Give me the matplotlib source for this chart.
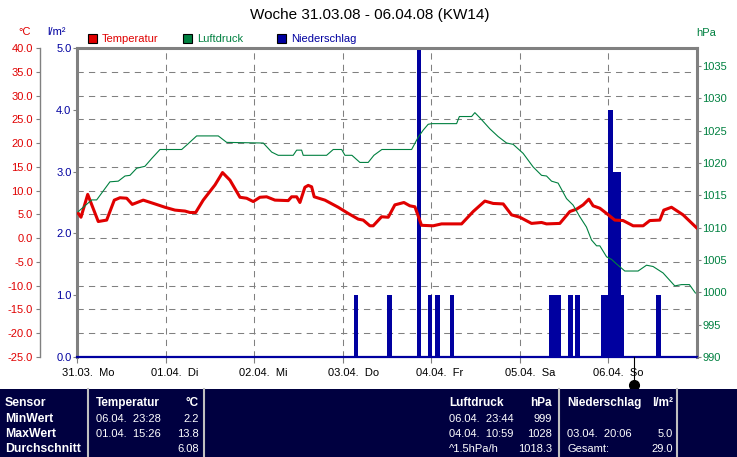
import numpy as np
import matplotlib
matplotlib.use('Agg')
import matplotlib.pyplot as plt
from matplotlib.patches import Rectangle
from matplotlib.lines import Line2D
from matplotlib.ticker import FixedLocator
from matplotlib.transforms import offset_copy

plt.rcParams['font.family'] = ['Liberation Sans', 'DejaVu Sans']

# --- data (x in days since 31.03. 00:00) ---
temp_day = [0.015, 0.045, 0.121, 0.240, 0.335, 0.421, 0.485, 0.561, 0.624, 0.748,
            0.880, 0.993, 1.106, 1.219, 1.275, 1.340, 1.425, 1.558, 1.643, 1.727,
            1.840, 1.915, 1.990, 2.065, 2.141, 2.235, 2.385, 2.423, 2.480, 2.517,
            2.573, 2.611, 2.649, 2.678, 2.799, 2.949, 3.062, 3.175, 3.231, 3.307,
            3.344, 3.439, 3.514, 3.589, 3.691, 3.758, 3.815, 3.890, 4.021, 4.116,
            4.342, 4.473, 4.605, 4.699, 4.812, 4.906, 5.000, 5.132, 5.245, 5.301,
            5.451, 5.564, 5.640, 5.714, 5.779, 5.827, 5.903, 5.979, 6.072, 6.166,
            6.279, 6.392, 6.467, 6.580, 6.625, 6.712, 6.843, 6.994]
temp_c = [5.2, 4.4, 9.2, 3.5, 3.8, 8.0, 8.5, 8.4, 7.1, 8.0,
          7.2, 6.5, 5.9, 5.7, 5.4, 5.4, 8.0, 11.2, 13.8, 12.2,
          8.6, 8.4, 7.7, 8.6, 8.7, 8.0, 7.9, 8.7, 8.7, 7.5,
          10.7, 11.1, 10.8, 8.7, 8.0, 6.5, 5.2, 4.0, 3.8, 2.6,
          2.6, 4.5, 4.4, 7.0, 7.5, 6.8, 6.6, 2.7, 2.6, 3.0,
          3.0, 5.6, 7.8, 7.3, 7.2, 4.9, 4.4, 3.1, 3.3, 3.0,
          3.1, 5.6, 6.1, 7.0, 8.2, 6.8, 6.3, 5.2, 3.8, 3.7,
          2.6, 2.6, 3.7, 3.8, 5.9, 6.5, 4.9, 2.2]

press_day = [0.015, 0.166, 0.222, 0.372, 0.466, 0.542, 0.598, 0.674, 0.767, 0.843,
             0.937, 1.182, 1.256, 1.351, 1.595, 1.690, 2.103, 2.198, 2.272, 2.441,
             2.480, 2.536, 2.554, 2.818, 2.893, 2.988, 3.025, 3.104, 3.194, 3.288,
             3.352, 3.442, 3.778, 3.852, 3.909, 3.965, 4.007, 4.286, 4.317, 4.455,
             4.492, 4.549, 4.661, 4.755, 4.850, 4.924, 5.037, 5.150, 5.245, 5.301,
             5.358, 5.432, 5.527, 5.601, 5.677, 5.752, 5.809, 5.866, 5.903, 5.979,
             6.035, 6.091, 6.185, 6.335, 6.430, 6.504, 6.617, 6.749, 6.825, 6.914,
             6.982]
press_hpa = [1012.5, 1014.3, 1014.3, 1017.1, 1017.2, 1018.0, 1018.1, 1019.2, 1019.5, 1020.7,
             1022.1, 1022.1, 1023.0, 1024.2, 1024.2, 1023.2, 1023.1, 1021.7, 1021.2, 1021.2,
             1022.0, 1022.0, 1021.2, 1021.2, 1022.1, 1022.1, 1021.2, 1021.2, 1020.1, 1020.1,
             1021.2, 1022.1, 1022.1, 1024.0, 1025.1, 1026.0, 1026.1, 1026.1, 1027.2, 1027.2,
             1027.8, 1027.0, 1025.3, 1024.1, 1023.1, 1022.9, 1021.5, 1019.4, 1018.1, 1018.0,
             1017.2, 1016.9, 1014.5, 1013.5, 1011.7, 1010.1, 1008.1, 1007.2, 1007.2, 1005.5,
             1005.1, 1004.4, 1003.3, 1003.3, 1004.2, 1004.0, 1003.0, 1001.0, 1001.2, 1001.2,
             999.9]

# hourly precipitation (hour since 31.03. 00:00)
rain_hour = [75, 84, 92, 95, 97, 101, 128, 129, 130, 133, 135,
             142, 143, 144, 145, 146, 147, 157]
rain_mm = [1, 1, 5, 1, 1, 1, 1, 1, 1, 1, 1,
           1, 1, 4, 3, 3, 1, 1]

day_labels = ['31.03.  Mo', '01.04.  Di', '02.04.  Mi', '03.04.  Do',
              '04.04.  Fr', '05.04.  Sa', '06.04.  So']
now_day = 6.287

T_MIN, T_MAX = -25, 40
P_MIN, P_MAX = 990, 1037.8

RED = '#e00000'
GREEN = '#008040'
BLUE = '#0000a0'
GRAY = '#808080'
NAVY = '#000040'

W, H = 737, 457
fig = plt.figure(figsize=(W / 100, H / 100), dpi=100)


def fx(px):
    return px / W


def fy(py):
    return 1 - py / H


ax = fig.add_axes([fx(77), fy(357), fx(697) - fx(77), fy(48) - fy(357)])

# precipitation bars
ax.bar(np.array(rain_hour) / 24, rain_mm, width=1 / 24, align='edge',
       color=BLUE, edgecolor=BLUE, linewidth=0.5, antialiased=False, zorder=2)
ax.set_xlim(0, 7)
ax.set_ylim(0, 5)
ax.set_yticks(np.arange(0, 6, 1))
ax.set_yticklabels([f'{v:.1f}' for v in np.arange(0, 6, 1)])
ax.tick_params(axis='y', colors=GRAY, labelcolor=BLUE, labelsize=8, length=3, pad=1)
ax.set_xticks(range(7))
ax.set_xticklabels([])
ax.tick_params(axis='x', colors=GRAY, length=4)

# grid: vertical per day, horizontal per 5 degC
ax.grid(axis='x', color=GRAY, ls=(0, (6, 5)), lw=0.75)
tgrid = (np.arange(-20, 40, 5) - T_MIN) / (T_MAX - T_MIN) * 5
ax.yaxis.set_minor_locator(FixedLocator(tgrid))
ax.tick_params(axis='y', which='minor', length=0)
ax.grid(True, axis='y', which='minor', color=GRAY, ls=(0, (6, 5)), lw=0.75)

for s in ['left', 'top', 'right']:
    ax.spines[s].set_color(GRAY)
    ax.spines[s].set_linewidth(2.2)
ax.spines['bottom'].set_color(BLUE)
ax.spines['bottom'].set_linewidth(1.6)

for i, lab in enumerate(day_labels):
    ax.text(i, 0, lab, fontsize=8, ha='left', va='center',
            transform=offset_copy(ax.get_xaxis_transform(), fig=fig,
                                  x=-15, y=-16, units='dots'))

# now marker
ax.plot([now_day, now_day], [0, -0.42], color='black', lw=0.8, clip_on=False, zorder=5)
ax.plot([now_day], [-0.45], 'o', color='black', ms=7, clip_on=False, zorder=5)

# temperature
ax_t = ax.twinx()
ax_t.plot(temp_day, temp_c, color=RED, lw=2.2)
ax_t.set_ylim(T_MIN, T_MAX)
ax_t.yaxis.tick_left()
ax_t.set_yticks(np.arange(T_MIN, T_MAX + 1, 5))
ax_t.set_yticklabels([f'{v:.1f}' for v in np.arange(T_MIN, T_MAX + 1, 5)])
ax_t.tick_params(axis='y', colors=GRAY, labelcolor=RED, labelsize=8, length=3, pad=2)
for s in ax_t.spines.values():
    s.set_visible(False)
ax_t.spines['left'].set_visible(True)
ax_t.spines['left'].set_position(('outward', 37 * 0.72))
ax_t.spines['left'].set_color(GRAY)
ax_t.spines['left'].set_linewidth(1.0)

# pressure
ax_p = ax.twinx()
ax_p.plot(press_day, press_hpa, color=GREEN, lw=0.8)
ax_p.set_ylim(P_MIN, P_MAX)
ax_p.set_yticks(np.arange(990, 1036, 5))
ax_p.tick_params(axis='y', colors=GRAY, labelcolor=GREEN, labelsize=8, length=3, pad=1)
for s in ax_p.spines.values():
    s.set_visible(False)

# title, units, legend
fig.text(fx(370), fy(15), 'Woche 31.03.08 - 06.04.08 (KW14)', fontsize=11,
         ha='center', va='center')
fig.text(fx(25), fy(32), '°C', color=RED, fontsize=8, ha='center', va='center')
fig.text(fx(57), fy(32), 'l/m²', color=BLUE, fontsize=8, ha='center', va='center')
fig.text(fx(706), fy(33), 'hPa', color=GREEN, fontsize=8, ha='center', va='center')

for x0, col, name in [(88, RED, 'Temperatur'), (183, GREEN, 'Luftdruck'),
                      (277, BLUE, 'Niederschlag')]:
    fig.add_artist(Rectangle((fx(x0), fy(43)), 9 / W, 9 / H, facecolor=col,
                             edgecolor='black', lw=0.8, transform=fig.transFigure))
    fig.text(fx(x0 + 14), fy(38.5), name, color=col, fontsize=8, ha='left', va='center')

# table at the bottom
fig.add_artist(Rectangle((0, 0), 1, fy(389), facecolor=NAVY, edgecolor='none',
                         transform=fig.transFigure, zorder=3))
for xs in [88, 204, 559, 677]:
    fig.add_artist(Line2D([fx(xs), fx(xs)], [0, fy(389)], color='#c0c0c0', lw=1.5,
                          transform=fig.transFigure, zorder=4))

rows_y = [403, 419, 434, 449]
col1 = ['Sensor', 'MinWert', 'MaxWert', 'Durchschnitt']
for yy, t in zip(rows_y, col1):
    fig.text(fx(5), fy(yy), t, color='white', fontsize=8.8, fontweight='bold',
             ha='left', va='center', zorder=5)

table_cols = [
    (96, 199, ['Temperatur', '06.04.  23:28', '01.04.  15:26', ''],
     ['°C', '2.2', '13.8', '6.08']),
    (449, 552, ['Luftdruck', '06.04.  23:44', '04.04.  10:59', '^1.5hPa/h'],
     ['hPa', '999', '1028', '1018.3']),
    (567, 673, ['Niederschlag', '', '03.04.  20:06', 'Gesamt:'],
     ['l/m²', '', '5.0', '29.0']),
]
for xl, xr, lefts, rights in table_cols:
    for k, (yy, lt, rt) in enumerate(zip(rows_y, lefts, rights)):
        w = 'bold' if k == 0 else 'normal'
        fs = 8.5 if k == 0 else 8
        fig.text(fx(xl), fy(yy), lt, color='white', fontsize=fs, fontweight=w,
                 ha='left', va='center', zorder=5)
        fig.text(fx(xr), fy(yy), rt, color='white', fontsize=fs, fontweight=w,
                 ha='right', va='center', zorder=5)

fig.savefig('out.png', dpi=100)
